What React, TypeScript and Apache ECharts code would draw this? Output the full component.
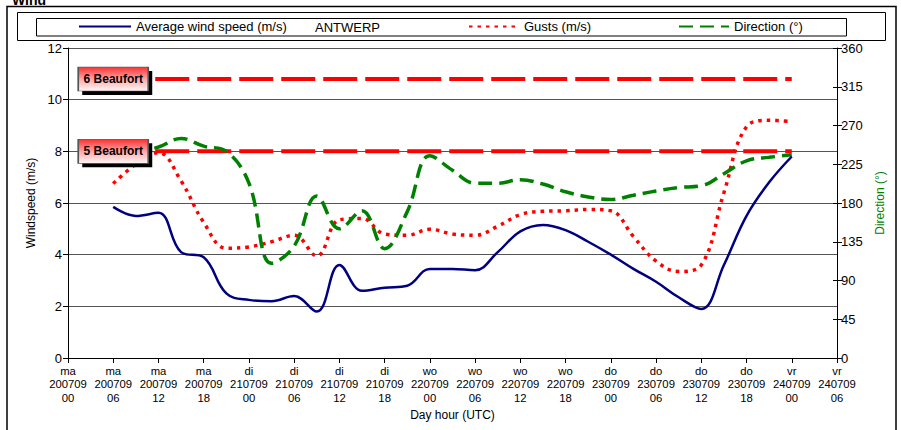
import React, { useEffect, useRef } from "react";
import * as echarts from "echarts";

const FONT = '"Liberation Sans", Arial, sans-serif';

// x positions (hours since ma 200709 00 UTC)
const hours = [6, 9, 12, 15, 18, 21, 24, 27, 30, 33, 36, 39, 42, 45, 48, 51, 54, 57, 60, 63, 66, 69, 72, 75, 78, 81, 84, 87, 90, 93, 96];

const avgWind = [5.85, 5.5, 5.62, 4.1, 3.9, 2.5, 2.25, 2.2, 2.4, 1.8, 3.6, 2.6, 2.72, 2.8, 3.45, 3.45, 3.4, 4.1, 4.9, 5.15, 4.95, 4.5, 4.0, 3.45, 2.95, 2.35, 1.9, 3.6, 5.5, 6.8, 7.8];
const gusts = [6.75, 7.5, 7.95, 6.85, 5.25, 4.25, 4.3, 4.5, 4.75, 3.95, 5.35, 5.4, 4.8, 4.75, 4.98, 4.8, 4.75, 5.1, 5.55, 5.68, 5.7, 5.75, 5.7, 4.7, 3.75, 3.35, 3.6, 6.4, 8.95, 9.2, 9.15];
const direction = [235, 238, 245, 255, 246, 240, 203, 110, 130, 188, 150, 171, 127, 170, 235, 218, 203, 203, 207, 202, 193, 187, 184, 189, 194, 198, 200, 214, 229, 233, 236];

const beaufortLevels = [10.8, 8.0];
const beaufortNames = ["6 Beaufort", "5 Beaufort"];
const beaufortSpan = [6, 96];

const tickDays = ["ma", "ma", "ma", "ma", "di", "di", "di", "di", "wo", "wo", "wo", "wo", "do", "do", "do", "do", "vr", "vr"];
const tickDates = ["200709", "200709", "200709", "200709", "210709", "210709", "210709", "210709", "220709", "220709", "220709", "220709", "230709", "230709", "230709", "230709", "240709", "240709"];
const tickHours = ["00", "06", "12", "18", "00", "06", "12", "18", "00", "06", "12", "18", "00", "06", "12", "18", "00", "06"];

const seriesNames = ["Average wind speed (m/s)", "Gusts (m/s)", "Direction (°)"];

export default function App() {
  const ref = useRef<HTMLDivElement>(null);
  useEffect(() => {
    if (!ref.current) return;
    const chart = echarts.init(ref.current, undefined, { renderer: "svg" });
    const grad = () =>
      new echarts.graphic.LinearGradient(0, 0, 0, 1, [
        { offset: 0, color: "#ff3030" },
        { offset: 0.55, color: "#ffb0b0" },
        { offset: 1, color: "#fff6f6" },
      ]);
    const beaufortSeries = beaufortLevels.map((lvl, i) => ({
      type: "line",
      data: beaufortSpan.map((h) => [h, lvl]),
      symbol: "none",
      silent: true,
      z: 2,
      lineStyle: { color: "#ff0000", width: 4, type: [34, 8] },
      markPoint: {
        z: 10,
        silent: true,
        data: [
          {
            coord: [beaufortSpan[0], lvl],
            symbol: "rect",
            symbolSize: [70, 24],
            symbolOffset: [4, 4],
            itemStyle: { color: "#000" },
            label: { show: false },
          },
          {
            coord: [beaufortSpan[0], lvl],
            symbol: "rect",
            symbolSize: [70, 24],
            itemStyle: { color: grad(), borderColor: "#555", borderWidth: 1 },
            label: {
              show: true,
              position: "inside",
              formatter: beaufortNames[i],
              color: "#000",
              fontWeight: "bold",
              fontSize: 12,
              fontFamily: FONT,
            },
          },
        ],
      },
    }));
    const legendBase = {
      top: 20,
      padding: 0,
      itemHeight: 14,
      itemGap: 0,
      itemStyle: { opacity: 0 },
      textStyle: { fontSize: 13, color: "#000", fontFamily: FONT },
      selectedMode: false,
    };
    const axisTickStyle = { color: "#000", width: 1 };
    chart.setOption({
      animation: false,
      backgroundColor: "#fff",
      textStyle: { fontFamily: FONT },
      grid: { left: 68, right: 64, top: 48, bottom: 72, containLabel: false },
      legend: [
        { ...legendBase, data: [seriesNames[0]], left: 78, itemWidth: 52 },
        { ...legendBase, data: [seriesNames[1]], left: 468, itemWidth: 50 },
        { ...legendBase, data: [seriesNames[2]], left: 678, itemWidth: 50 },
      ],
      xAxis: {
        type: "value",
        min: 0,
        max: 102,
        interval: 6,
        name: "Day hour (UTC)",
        nameLocation: "middle",
        nameGap: 50,
        nameTextStyle: { fontSize: 12, color: "#000" },
        axisLine: { lineStyle: { color: "#000", width: 1 } },
        axisTick: { show: true, length: 5, lineStyle: axisTickStyle },
        splitLine: { show: false },
        axisLabel: {
          color: "#000",
          fontSize: 11.3,
          lineHeight: 13.5,
          margin: 6,
          showMinLabel: true,
          showMaxLabel: true,
          formatter: (v: number) => {
            const i = Math.round(v / 6);
            return `${tickDays[i]}\n${tickDates[i]}\n${tickHours[i]}`;
          },
        },
      },
      yAxis: [
        {
          type: "value",
          min: 0,
          max: 12,
          interval: 2,
          name: "Windspeed (m/s)",
          nameLocation: "middle",
          nameGap: 28,
          nameTextStyle: { fontSize: 12, color: "#000" },
          axisLine: { show: true, lineStyle: { color: "#000" } },
          axisTick: { show: true, length: 5, lineStyle: axisTickStyle },
          axisLabel: { color: "#000", fontSize: 13, margin: 6 },
          splitLine: { show: true, lineStyle: { color: "#555", width: 1 } },
        },
        {
          type: "value",
          min: 0,
          max: 360,
          interval: 45,
          position: "right",
          name: "Direction (°)",
          nameLocation: "middle",
          nameGap: 37,
          nameTextStyle: { fontSize: 12, color: "#008000" },
          axisLine: { show: true, lineStyle: { color: "#000" } },
          axisTick: { show: true, length: 5, lineStyle: axisTickStyle },
          axisLabel: { color: "#000", fontSize: 13, margin: 4 },
          splitLine: { show: false },
        },
        {
          type: "value",
          min: 0,
          max: 360,
          interval: 45,
          position: "right",
          axisLine: { show: false },
          axisTick: { show: true, inside: true, length: 4, lineStyle: axisTickStyle },
          axisLabel: { show: false },
          splitLine: { show: false },
        },
      ],
      series: [
        ...beaufortSeries,
        {
          name: seriesNames[0],
          type: "line",
          data: hours.map((h, i) => [h, avgWind[i]]),
          smooth: 0.4,
          symbol: "none",
          z: 6,
          itemStyle: { color: "#000080" },
          lineStyle: { color: "#000080", width: 2.5 },
        },
        {
          name: seriesNames[1],
          type: "line",
          data: hours.map((h, i) => [h, gusts[i]]),
          smooth: 0.4,
          symbol: "none",
          z: 4,
          itemStyle: { color: "#ff0000" },
          lineStyle: { color: "#ff0000", width: 3.5, type: [3.5, 5] },
        },
        {
          name: seriesNames[2],
          type: "line",
          yAxisIndex: 1,
          data: hours.map((h, i) => [h, direction[i]]),
          smooth: 0.4,
          symbol: "none",
          z: 5,
          itemStyle: { color: "#008000" },
          lineStyle: { color: "#008000", width: 3.5, type: [14, 7] },
        },
      ],
      graphic: [
        { type: "rect", silent: true, z: -10, shape: { x: 7, y: 6.5, width: 889, height: 440 }, style: { fill: "none", stroke: "#000", lineWidth: 1.5 } },
        { type: "rect", silent: true, z: -10, shape: { x: 17.5, y: 12.5, width: 868, height: 28 }, style: { fill: "none", stroke: "#000", lineWidth: 1 } },
        { type: "rect", silent: true, z: -10, shape: { x: 36.5, y: 18.5, width: 810, height: 17.5 }, style: { fill: "none", stroke: "#000", lineWidth: 1 } },
        { type: "text", silent: true, x: 315, y: 27.5, style: { text: "ANTWERP", font: `13px ${FONT}`, fill: "#000", verticalAlign: "middle" } },
        { type: "text", silent: true, x: 12, y: 7, style: { text: "Wind", font: `bold 14px ${FONT}`, fill: "#000", verticalAlign: "bottom" } },
      ],
    });
    return () => chart.dispose();
  }, []);
  return (
    <div
      ref={ref}
      style={{ position: "fixed", left: 0, top: 0, width: 901, height: 430, background: "#fff" }}
    />
  );
}
